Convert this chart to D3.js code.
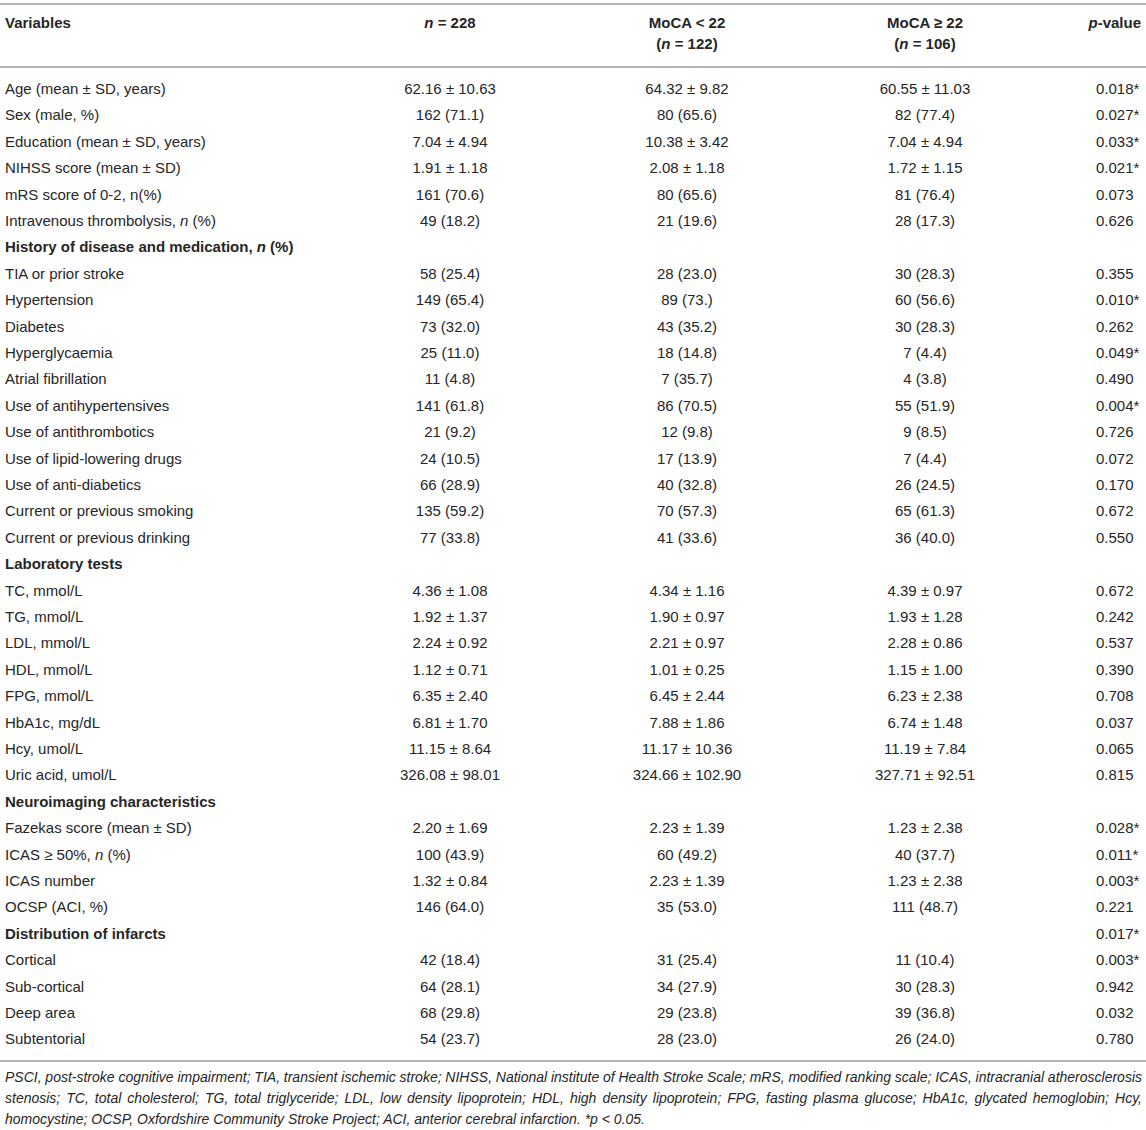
<!DOCTYPE html>
<html>
<head>
<meta charset="utf-8">
<script src="https://cdn.jsdelivr.net/npm/d3@7"></script>
<style>
	html, body { margin: 0; padding: 0; background: #fff; }
	svg text { font-family: "Liberation Sans", Arial, sans-serif; fill: #262626; }
</style>
</head>
<body>
<div id="table"></div>
<script>
// _x_ marks an italic run
const headers = [
	['Variables'],
	['_n_ = 228'],
	['MoCA < 22', '(_n_ = 122)'],
	['MoCA \u2265 22', '(_n_ = 106)'],
	['_p_-value']
];

const variables = [
	'Age (mean \u00b1 SD, years)', 'Sex (male, %)', 'Education (mean \u00b1 SD, years)', 'NIHSS score (mean \u00b1 SD)',
	'mRS score of 0-2, n(%)', 'Intravenous thrombolysis, _n_ (%)',
	'History of disease and medication, _n_ (%)',
	'TIA or prior stroke', 'Hypertension', 'Diabetes', 'Hyperglycaemia', 'Atrial fibrillation',
	'Use of antihypertensives', 'Use of antithrombotics', 'Use of lipid-lowering drugs', 'Use of anti-diabetics',
	'Current or previous smoking', 'Current or previous drinking',
	'Laboratory tests',
	'TC, mmol/L', 'TG, mmol/L', 'LDL, mmol/L', 'HDL, mmol/L', 'FPG, mmol/L', 'HbA1c, mg/dL', 'Hcy, umol/L', 'Uric acid, umol/L',
	'Neuroimaging characteristics',
	'Fazekas score (mean \u00b1 SD)', 'ICAS \u2265 50%, _n_ (%)', 'ICAS number', 'OCSP (ACI, %)',
	'Distribution of infarcts',
	'Cortical', 'Sub-cortical', 'Deep area', 'Subtentorial'
];

const sections = ['History of disease and medication, _n_ (%)', 'Laboratory tests', 'Neuroimaging characteristics', 'Distribution of infarcts'];

const allPatients = [
	'62.16 \u00b1 10.63', '162 (71.1)', '7.04 \u00b1 4.94', '1.91 \u00b1 1.18', '161 (70.6)', '49 (18.2)',
	'',
	'58 (25.4)', '149 (65.4)', '73 (32.0)', '25 (11.0)', '11 (4.8)', '141 (61.8)', '21 (9.2)', '24 (10.5)', '66 (28.9)', '135 (59.2)', '77 (33.8)',
	'',
	'4.36 \u00b1 1.08', '1.92 \u00b1 1.37', '2.24 \u00b1 0.92', '1.12 \u00b1 0.71', '6.35 \u00b1 2.40', '6.81 \u00b1 1.70', '11.15 \u00b1 8.64', '326.08 \u00b1 98.01',
	'',
	'2.20 \u00b1 1.69', '100 (43.9)', '1.32 \u00b1 0.84', '146 (64.0)',
	'',
	'42 (18.4)', '64 (28.1)', '68 (29.8)', '54 (23.7)'
];

const mocaLow = [
	'64.32 \u00b1 9.82', '80 (65.6)', '10.38 \u00b1 3.42', '2.08 \u00b1 1.18', '80 (65.6)', '21 (19.6)',
	'',
	'28 (23.0)', '89 (73.)', '43 (35.2)', '18 (14.8)', '7 (35.7)', '86 (70.5)', '12 (9.8)', '17 (13.9)', '40 (32.8)', '70 (57.3)', '41 (33.6)',
	'',
	'4.34 \u00b1 1.16', '1.90 \u00b1 0.97', '2.21 \u00b1 0.97', '1.01 \u00b1 0.25', '6.45 \u00b1 2.44', '7.88 \u00b1 1.86', '11.17 \u00b1 10.36', '324.66 \u00b1 102.90',
	'',
	'2.23 \u00b1 1.39', '60 (49.2)', '2.23 \u00b1 1.39', '35 (53.0)',
	'',
	'31 (25.4)', '34 (27.9)', '29 (23.8)', '28 (23.0)'
];

const mocaHigh = [
	'60.55 \u00b1 11.03', '82 (77.4)', '7.04 \u00b1 4.94', '1.72 \u00b1 1.15', '81 (76.4)', '28 (17.3)',
	'',
	'30 (28.3)', '60 (56.6)', '30 (28.3)', '7 (4.4)', '4 (3.8)', '55 (51.9)', '9 (8.5)', '7 (4.4)', '26 (24.5)', '65 (61.3)', '36 (40.0)',
	'',
	'4.39 \u00b1 0.97', '1.93 \u00b1 1.28', '2.28 \u00b1 0.86', '1.15 \u00b1 1.00', '6.23 \u00b1 2.38', '6.74 \u00b1 1.48', '11.19 \u00b1 7.84', '327.71 \u00b1 92.51',
	'',
	'1.23 \u00b1 2.38', '40 (37.7)', '1.23 \u00b1 2.38', '111 (48.7)',
	'',
	'11 (10.4)', '30 (28.3)', '39 (36.8)', '26 (24.0)'
];

const pValues = [
	'0.018*', '0.027*', '0.033*', '0.021*', '0.073', '0.626',
	'',
	'0.355', '0.010*', '0.262', '0.049*', '0.490', '0.004*', '0.726', '0.072', '0.170', '0.672', '0.550',
	'',
	'0.672', '0.242', '0.537', '0.390', '0.708', '0.037', '0.065', '0.815',
	'',
	'0.028*', '0.011*', '0.003*', '0.221',
	'0.017*',
	'0.003*', '0.942', '0.032', '0.780'
];

const footnote = [
	'PSCI, post-stroke cognitive impairment; TIA, transient ischemic stroke; NIHSS, National institute of Health Stroke Scale; mRS, modified ranking scale; ICAS, intracranial atherosclerosis',
	'stenosis; TC, total cholesterol; TG, total triglyceride; LDL, low density lipoprotein; HDL, high density lipoprotein; FPG, fasting plasma glucose; HbA1c, glycated hemoglobin; Hcy,',
	'homocystine; OCSP, Oxfordshire Community Stroke Project; ACI, anterior cerebral infarction. *p < 0.05.'
];

let W = 1146, H = 1130;
let marg = { left: 5, right: 4 };
let fontSize = 15, noteSize = 14;

const svg = d3.select('#table').append('svg').attr('width', W).attr('height', H);

// column positions / anchors
const colX = d3.scaleOrdinal().domain([0, 1, 2, 3, 4]).range([marg.left, 450, 687, 925, W - 5]);
const colAnchor = ['start', 'middle', 'middle', 'middle', 'end'];
const pX = 1096;

const rowY = d3.scaleLinear().domain([0, variables.length - 1]).range([94, 1044.4]);
const hdrY = d3.scaleLinear().domain([0, 1]).range([28, 49]);

// writes a string with _italic_ runs into a text node
function rich(sel, str) {
	str.split('_').forEach((part, i) => {
		if (!part) return;
		sel.append('tspan').attr('font-style', i % 2 ? 'italic' : null).text(part);
	});
}

// rules
let rules = [4, 67, 1061];
svg.append('g').selectAll('line').data(rules).enter().append('line')
	.attr('x1', 0).attr('x2', W)
	.attr('y1', d => d).attr('y2', d => d)
	.attr('stroke', '#b3b3b3').attr('stroke-width', 2);

// header
let hdr = svg.append('g').attr('font-weight', 'bold').attr('font-size', fontSize);
headers.forEach((lines, c) => {
	lines.forEach((ln, k) => {
		let t = hdr.append('text').attr('x', colX(c)).attr('y', hdrY(k)).attr('text-anchor', colAnchor[c]);
		rich(t, ln);
	});
});

// body
let body = svg.append('g').attr('font-size', fontSize);
variables.forEach((v, i) => {
	let t = body.append('text').attr('x', colX(0)).attr('y', rowY(i));
	if (sections.indexOf(v) >= 0) t.attr('font-weight', 'bold');
	rich(t, v);
});

[allPatients, mocaLow, mocaHigh].forEach((col, c) => {
	body.append('g').selectAll('text').data(col).enter().append('text')
		.attr('x', colX(c + 1))
		.attr('y', (d, i) => rowY(i))
		.attr('text-anchor', 'middle')
		.text(d => d);
});

body.append('g').selectAll('text').data(pValues).enter().append('text')
	.attr('x', pX)
	.attr('y', (d, i) => rowY(i))
	.text(d => d);

// footnote, first lines justified
let noteY = d3.scaleLinear().domain([0, 2]).range([1082, 1124]);
let note = svg.append('g').attr('font-size', noteSize).attr('font-style', 'italic');
footnote.forEach((ln, i) => {
	let t = note.append('text').attr('x', marg.left).attr('y', noteY(i)).text(ln);
	if (i < footnote.length - 1) {
		let spaces = ln.split(' ').length - 1;
		let extra = (W - marg.left - marg.right - t.node().getComputedTextLength()) / spaces;
		t.attr('word-spacing', extra);
	}
});
</script>
</body>
</html>
